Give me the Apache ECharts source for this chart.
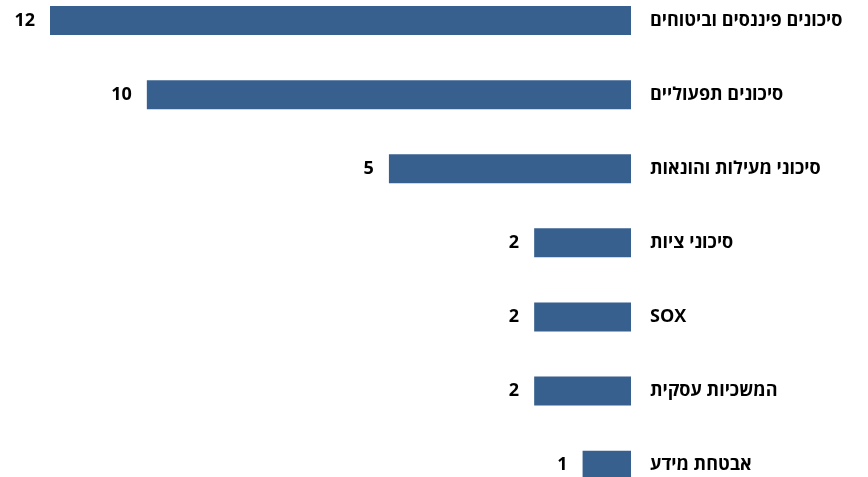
<!DOCTYPE html>
<html>
<head>
<meta charset="utf-8">
<script src="https://cdn.jsdelivr.net/npm/echarts@6/dist/echarts.min.js"></script>
<style>
  html, body { margin: 0; padding: 0; background: #ffffff; overflow: hidden; width: 868px; height: 477px; }
  /* the plot runs a little past the top and bottom edges of the page */
  #chart { position: absolute; left: 0; top: -17px; width: 868px; height: 536px; }
</style>
</head>
<body>
<div id="chart"></div>
<script>
// Risk categories, top to bottom
const categories = [
  'סיכונים פיננסים וביטוחים',
  'סיכונים תפעוליים',
  'סיכוני מעילות והונאות',
  'סיכוני ציות',
  'SOX',
  'המשכיות עסקית',
  'אבטחת מידע'
];
// Number of items per category
const counts = [12, 10, 5, 2, 2, 2, 1];

const FONT = '"Open Sans", "DejaVu Sans", "Liberation Sans", sans-serif';

const chart = echarts.init(document.getElementById('chart'), null, { renderer: 'canvas' });

chart.setOption({
  animation: false,
  backgroundColor: '#ffffff',
  grid: { left: 50, right: 237, top: 0.5, height: 518.7, containLabel: false },
  xAxis: {
    type: 'value',
    inverse: true,
    min: 0,
    max: 12,
    show: false
  },
  yAxis: {
    type: 'category',
    data: categories,
    inverse: true,
    position: 'right',
    axisLine: { show: false },
    axisTick: { show: false },
    splitLine: { show: false },
    axisLabel: {
      align: 'left',
      margin: 19,
      color: '#000000',
      fontFamily: FONT,
      fontWeight: 'bold',
      fontSize: 18
    }
  },
  series: [{
    type: 'bar',
    data: counts,
    barWidth: 29,
    itemStyle: { color: '#37608F' },
    label: {
      show: true,
      position: 'left',
      distance: 15,
      color: '#000000',
      fontFamily: FONT,
      fontWeight: 'bold',
      fontSize: 18
    }
  }]
});
</script>
</body>
</html>
